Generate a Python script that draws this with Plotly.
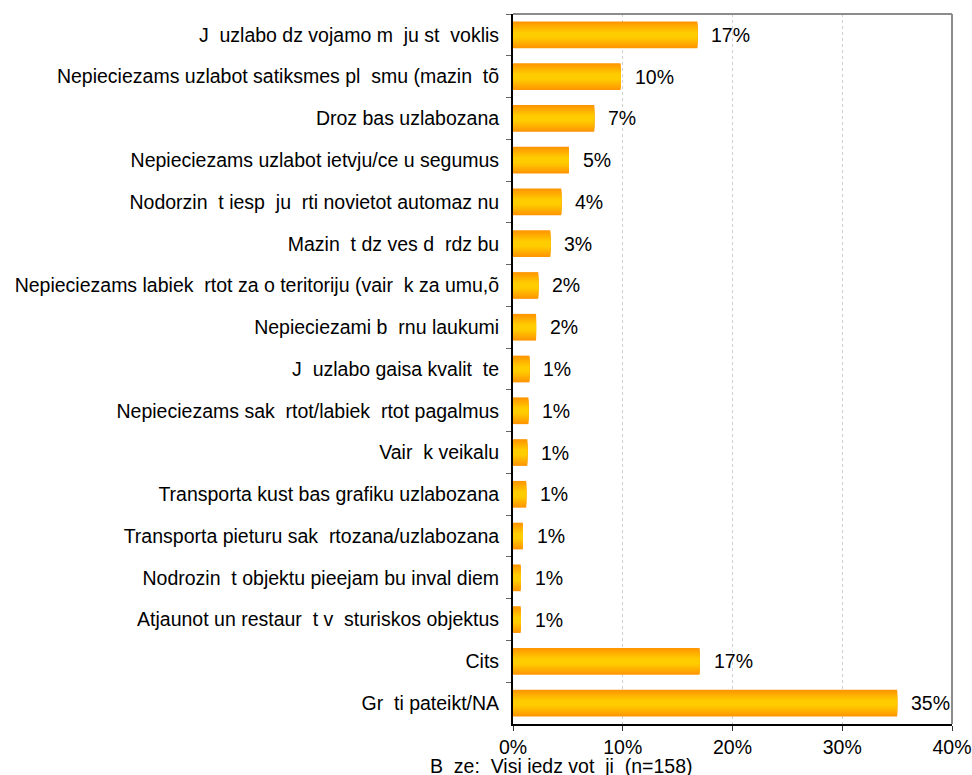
import plotly.graph_objects as go

NB = "\u00a0"

categories = [
    "J  uzlabo dz vojamo m  ju st  voklis",
    "Nepieciezams uzlabot satiksmes pl  smu (mazin  tõ",
    "Droz bas uzlabozana",
    "Nepieciezams uzlabot ietvju/ce u segumus",
    "Nodorzin  t iesp  ju  rti novietot automaz nu",
    "Mazin  t dz ves d  rdz bu",
    "Nepieciezams labiek  rtot za o teritoriju (vair  k za umu,õ",
    "Nepieciezami b  rnu laukumi",
    "J  uzlabo gaisa kvalit  te",
    "Nepieciezams sak  rtot/labiek  rtot pagalmus",
    "Vair  k veikalu",
    "Transporta kust bas grafiku uzlabozana",
    "Transporta pieturu sak  rtozana/uzlabozana",
    "Nodrozin  t objektu pieejam bu inval diem",
    "Atjaunot un restaur  t v  sturiskos objektus",
    "Cits",
    "Gr  ti pateikt/NA",
]
values = [16.8, 9.8, 7.4, 5.1, 4.4, 3.4, 2.3, 2.1, 1.5, 1.4, 1.3, 1.2, 0.9, 0.7, 0.7, 17.0, 35.0]
value_labels = ["17%", "10%", "7%", "5%", "4%", "3%", "2%", "2%", "1%", "1%", "1%", "1%", "1%", "1%", "1%", "17%", "35%"]
x_ticks = [0, 10, 20, 30, 40]
x_tick_labels = ["0%", "10%", "20%", "30%", "40%"]
base_note = "B  ze:  Visi iedz vot  ji  (n=158)"

cats = [c.replace(" ", NB) for c in categories]

FONT = "Liberation Sans, Arial, sans-serif"
FS = 19.5
fig = go.Figure()

# gradient bars simulated with stacked overlay layers (edge orange -> centre yellow)
n_layers = 9
w0 = 0.64
c_edge = (255, 150, 0)
c_mid = (255, 204, 0)
for k in range(n_layers):
    t = k / (n_layers - 1)
    col = tuple(round(c_edge[i] + (c_mid[i] - c_edge[i]) * t) for i in range(3))
    w = w0 * (1 - k / (n_layers + 1.5))
    fig.add_trace(go.Bar(
        x=values, y=cats, orientation="h", width=w,
        marker=dict(color="rgb(%d,%d,%d)" % col, line=dict(width=0)),
        hoverinfo="skip" if k else None, showlegend=False,
    ))

for c, v, lab in zip(cats, values, value_labels):
    fig.add_annotation(x=v, y=c, text=lab, showarrow=False, xanchor="left",
                       xshift=12, font=dict(family=FONT, size=FS, color="#000"))

fig.add_annotation(x=0.109, y=-0.059, xref="paper", yref="paper",
                   xanchor="center", yanchor="middle",
                   text=base_note.replace(" ", NB), showarrow=False,
                   font=dict(family=FONT, size=FS, color="#000"))

# grey frame top and right
fig.add_shape(type="line", xref="paper", yref="paper", x0=0, x1=1, y0=1, y1=1,
              line=dict(color="#8c8c8c", width=2))
fig.add_shape(type="line", xref="paper", yref="paper", x0=1, x1=1, y0=0, y1=1,
              line=dict(color="#8c8c8c", width=2))

fig.update_layout(
    width=972, height=775,
    margin=dict(l=513, r=20, t=14, b=51),
    barmode="overlay",
    paper_bgcolor="white", plot_bgcolor="white",
    font=dict(family=FONT, size=FS, color="#000"),
    xaxis=dict(range=[0, 40], tickvals=x_ticks, ticktext=x_tick_labels,
               showgrid=True, gridcolor="#d0d0d0", griddash="dot", gridwidth=1,
               showline=True, linecolor="#000", linewidth=2,
               ticks="outside", ticklen=5, tickcolor="#333",
               zeroline=False, automargin=False,
               tickfont=dict(family=FONT, size=FS, color="#000")),
    yaxis=dict(autorange="reversed", type="category",
               showline=True, linecolor="#000", linewidth=2,
               ticks="outside", ticklen=5, tickcolor="#666", tickson="boundaries",
               ticklabelstandoff=8,
               showgrid=False, automargin=False,
               tickfont=dict(family=FONT, size=FS, color="#000")),
)

fig.write_html("out.html", config={"displayModeBar": False},
               post_script="document.body.style.margin='0';document.body.style.overflow='hidden';")
